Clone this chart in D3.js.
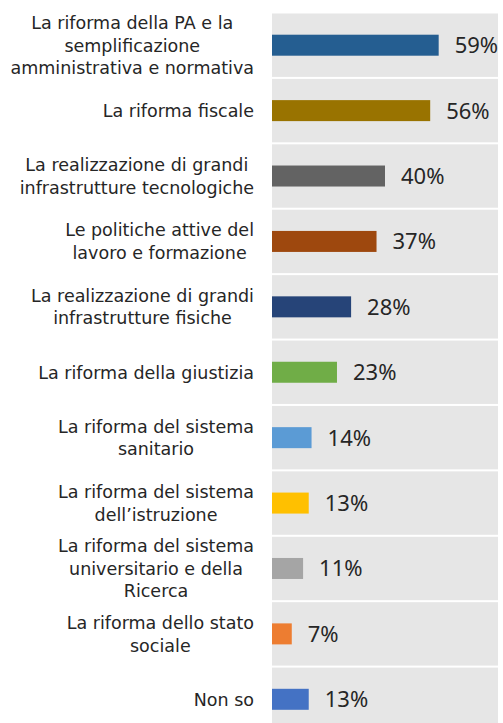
<!DOCTYPE html>
<html>
<head>
<meta charset="utf-8">
<script src="https://cdn.jsdelivr.net/npm/d3@7"></script>
<style>
body { margin: 0; background: #fff; }
text { font-family: "Noto Sans", sans-serif; fill: #262626; }
text.cat { font-family: "DejaVu Sans", sans-serif; }
</style>
</head>
<body>
<div id="chart"></div>
<script>
// DATI
const categories = [
    ["La riforma della PA e la", "semplificazione", "amministrativa e normativa"],
    ["La riforma fiscale"],
    ["La realizzazione di grandi", "infrastrutture tecnologiche"],
    ["Le politiche attive del", "lavoro e formazione"],
    ["La realizzazione di grandi", "infrastrutture fisiche"],
    ["La riforma della giustizia"],
    ["La riforma del sistema", "sanitario"],
    ["La riforma del sistema", "dell\u2019istruzione"],
    ["La riforma del sistema", "universitario e della", "Ricerca"],
    ["La riforma dello stato", "sociale"],
    ["Non so"]
]
const values = [59, 56, 40, 37, 28, 23, 14, 13, 11, 7, 13]
const colors = ["#255e91", "#997300", "#636363", "#9e480e", "#264478", "#70ad47",
                "#5b9bd5", "#ffc000", "#a5a5a5", "#ed7d31", "#4472c4"]

// COSTANTI
const width = 503
const height = 723
const plot = { left: 272, right: 498, top: 13.5, bottom: 733 }
const barH = 21
const labelRight = 254
const lineH = 22.7

const svg = d3.select("#chart").append("svg")
    .attr("width", width).attr("height", height)

// SCALE
const ids = categories.map((c, i) => i)
const y = d3.scaleBand().domain(ids).range([plot.top, plot.bottom])
const x = d3.scaleLinear().domain([0, 80]).range([plot.left, plot.right])

// sfondo a righe
svg.append("g").selectAll("rect").data(ids).enter().append("rect")
    .attr("x", plot.left)
    .attr("y", d => y(d))
    .attr("width", plot.right - plot.left)
    .attr("height", y.step() - 2)
    .attr("fill", "#e6e6e6")

// barre
svg.append("g").selectAll("rect").data(values).enter().append("rect")
    .attr("x", x(0))
    .attr("y", (d, i) => y(i) + y.step() / 2 - 1 - barH / 2)
    .attr("width", d => x(d) - x(0))
    .attr("height", barH)
    .attr("fill", (d, i) => colors[i])

// etichette valori
svg.append("g").selectAll("text").data(values).enter().append("text")
    .attr("x", d => x(d) + 16)
    .attr("y", (d, i) => y(i) + y.step() / 2 - 1)
    .attr("dy", "0.36em")
    .style("font-size", "22px")
    .text(d => d + "%")

// etichette categorie (righe centrate, blocco allineato a destra)
const labels = svg.append("g").selectAll("text").data(categories).enter().append("text")
    .attr("class", "cat")
    .style("font-size", "17.5px")
    .attr("text-anchor", "middle")

labels.each(function(lines, i) {
    const t = d3.select(this)
    const cy = y(i) + y.step() / 2 - 1
    const spans = t.selectAll("tspan").data(lines).enter().append("tspan")
        .attr("y", (l, k) => cy + (k - (lines.length - 1) / 2) * lineH)
        .attr("dy", "0.36em")
        .text(l => l)
    let maxW = 0
    spans.each(function() { maxW = Math.max(maxW, this.getComputedTextLength()) })
    spans.attr("x", labelRight - maxW / 2)
})
</script>
</body>
</html>
